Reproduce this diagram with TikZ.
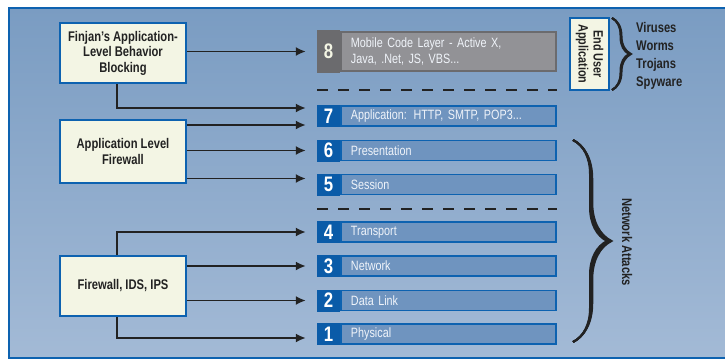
\documentclass[tikz,border=0pt]{standalone}
\usepackage{fontspec}
\setmainfont{Liberation Sans}[FakeStretch=0.8]
\usetikzlibrary{arrows.meta,decorations.pathreplacing,positioning}
\definecolor{bgtop}{RGB}{122,156,194}
\definecolor{bgbot}{RGB}{163,186,214}
\definecolor{bordblue}{RGB}{13,98,176}
\definecolor{numblue}{RGB}{10,91,168}
\definecolor{layerfill}{RGB}{111,148,191}
\definecolor{cream}{RGB}{243,245,228}
\definecolor{darktext}{RGB}{34,34,34}
\definecolor{layertext}{RGB}{240,244,250}
\definecolor{grayfill}{RGB}{146,146,150}
\definecolor{graynum}{RGB}{107,107,110}
\begin{document}
\begin{tikzpicture}[x=1pt,y=-1pt,
	guard/.style={draw=bordblue,line width=2pt,fill=cream,text=darktext,font=\bfseries\fontsize{14}{15.5}\selectfont,align=center,minimum width=126pt},
	num/.style={fill=numblue,text=white,font=\bfseries\fontsize{21}{21}\selectfont,minimum width=23pt,minimum height=22pt,inner sep=0pt},
	layer/.style={draw=bordblue,line width=1.5pt,fill=layerfill,text=layertext,font=\fontsize{13.5}{15.5}\selectfont,text width=195pt,inner xsep=10pt,inner ysep=0pt,minimum height=20pt,align=left},
	arr/.style={-{Latex[length=10pt,width=9pt]},line width=1.8pt,draw=darktext},
	sepline/.style={draw=darktext,line width=2.5pt,dash pattern=on 11pt off 10pt},
	bracket/.style={draw=darktext,line width=2pt,decorate},
	attack/.style={text=darktext,font=\bfseries\fontsize{14}{18}\selectfont,inner sep=0pt}]
	\useasboundingbox (0,0) rectangle (725,359);
	% draw the panel
	\shade[top color=bgtop,bottom color=bgbot] (9,8) rectangle (725,358);
	\draw[bordblue,line width=2.5pt] (725,8) -- (9,8) -- (9,358) -- (725,358);
	% draw the protections
	\node[guard,minimum height=60pt] (finjan) at (123,53) {Finjan's Application-\\Level Behavior\\Blocking};
	\node[guard,minimum height=63pt] (alf) at (123,151.5) {Application Level\\Firewall};
	\node[guard,minimum height=60pt] (fw) at (123,286) {Firewall, IDS, IPS};
	% draw the layers
	\node[num,fill=graynum,text=cream,minimum height=43pt] (n8) at (328.5,51.5) {8};
	\node[layer,right=0pt of n8,fill=grayfill,draw=graynum,minimum height=39pt] (l8) {Mobile Code Layer - Active X,\\Java, .Net, JS, VBS...};
	\foreach \n/\y/\txt in {7/116/{Application: HTTP, SMTP, POP3...},6/150.5/Presentation,5/184.5/Session,4/232/Transport,3/266/Network,2/300.5/Data Link,1/334/Physical}{
		\node[num] (n\n) at (328.5,\y) {\n};
		\node[layer,right=0pt of n\n] (l\n) {\txt};
	}
	% dashed separators
	\coordinate (sep1) at (317,90);
	\coordinate (sep2) at (317,209);
	\draw[sepline] (sep1) -- (sep1 -| l8.east);
	\draw[sepline] (sep2) -- (sep2 -| l8.east);
	% draw the arrows
	\draw[arr] (finjan.east |- n8.west) -- ([xshift=-11pt]n8.west);
	\draw[arr] ([xshift=-6pt]finjan.south) |- ([xshift=-11pt,yshift=8pt]n7.west);
	\draw[arr] ([yshift=-9pt]n7.west -| alf.east) -- ([xshift=-11pt,yshift=-9pt]n7.west);
	\draw[arr] (alf.east |- n6.west) -- ([xshift=-11pt]n6.west);
	\draw[arr] ([yshift=6pt]n5.west -| alf.east) -- ([xshift=-11pt,yshift=6pt]n5.west);
	\draw[arr] ([xshift=-6pt]fw.north) |- ([xshift=-11pt]n4.west);
	\draw[arr] (fw.east |- n3.west) -- ([xshift=-11pt]n3.west);
	\draw[arr] (fw.east |- n2.west) -- ([xshift=-11pt]n2.west);
	\draw[arr] ([xshift=-6pt]fw.south) |- ([xshift=-11pt,yshift=-4pt]n1.west);
	% end user side
	\node[guard,rotate=-90,line width=2pt,minimum width=72pt,minimum height=39pt,inner sep=0pt,font=\bfseries\fontsize{13.5}{15}\selectfont] (enduser) at (589.5,54) {End User\\Application};
	\coordinate (b1) at (612,18);
	\coordinate (b2) at (612,90);
	\foreach \a in {17,18,19}{\draw[bracket,decoration={brace,amplitude=\a pt}] (b1) -- (b2);}
	\node[attack,anchor=north west,align=left] (threats) at (636,22) {Viruses\\Worms\\Trojans\\Spyware};
	\coordinate (b3) at (573,140);
	\coordinate (b4) at (573,342);
	\foreach \a in {34,35.5,37,38.5}{\draw[bracket,decoration={brace,amplitude=\a pt}] (b3) -- (b4);}
	\node[attack,rotate=-90] (netatt) at (627,242) {Network Attacks};
\end{tikzpicture}
\end{document}
